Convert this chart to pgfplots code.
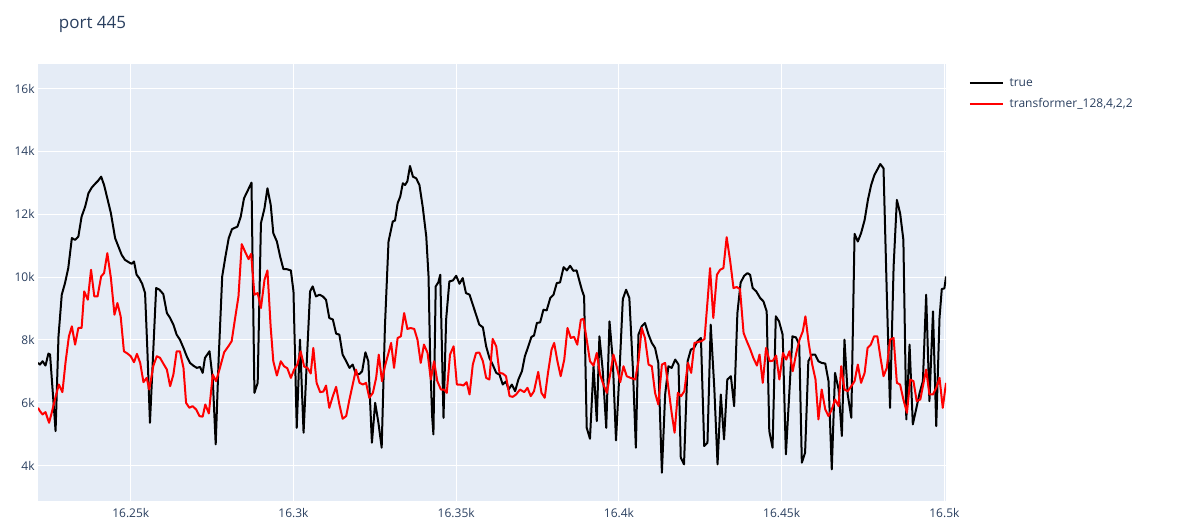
\documentclass[border=0pt]{standalone}
\usepackage{fontspec}
\setmainfont{Open Sans}
\usepackage{pgfplots}
\pgfplotsset{compat=1.18}
\definecolor{plotbg}{HTML}{E5ECF6}
\definecolor{inkblue}{HTML}{2A3F5F}

\begin{document}
\begin{tikzpicture}
\begin{axis}[
  scale only axis, width=681pt, height=327.75pt,
  at={(0pt,0pt)}, anchor=south west,
  xmin=16221.5, xmax=16500.5, ymin=2876, ymax=16780,
  scaled x ticks=false, scaled y ticks=false,
  axis background/.style={fill=plotbg},
  axis line style={draw=none},
  major tick length=0pt,
  grid=major, major grid style={white, line width=0.75pt},
  xtick={16250,16300,16350,16400,16450,16500},
  xticklabels={16.25k,16.3k,16.35k,16.4k,16.45k,16.5k},
  ytick={4000,6000,8000,10000,12000,14000,16000},
  yticklabels={4k,6k,8k,10k,12k,14k,16k},
  tick label style={font=\fontsize{9}{11}\selectfont, text=inkblue},
  xticklabel style={yshift=-2pt},
  yticklabel style={xshift=1pt},
  legend cell align=left,
  legend style={at={(axis description cs:1,1)}, anchor=north west, xshift=14pt, yshift=-6.5pt,
    draw=none, fill=none, font=\fontsize{9}{11}\selectfont, text=inkblue, row sep=3.5pt,
    nodes={inner xsep=4pt}},
  legend image code/.code={\draw[#1] (0pt,0pt) -- (25pt,0pt);},
  line join=round,
]
\addplot[black, line width=1.5pt] coordinates {
(16221.5,7270) (16222.1,7217) (16222.9,7323) (16223.8,7185) (16224.7,7566) (16225.2,7540) (16226.9,5100) (16227.8,8117) (16228.8,9440) (16229.8,9810) (16230.8,10286) (16231.9,11240) (16232.9,11185) (16233.9,11290) (16234.9,11926) (16236.0,12243) (16237.0,12667) (16238.0,12846) (16239.0,12963) (16240.0,13069) (16240.9,13196) (16241.8,12931) (16242.8,12508) (16243.9,12032) (16245.2,11238) (16246.2,10974) (16247.2,10709) (16248.2,10550) (16249.5,10466) (16250.3,10423) (16251.0,10497) (16251.8,10074) (16252.6,9968) (16253.5,9788) (16254.4,9492) (16255.1,7693) (16255.9,5365) (16257.8,9651) (16258.8,9600) (16260.0,9460) (16261.1,8857) (16262.1,8698) (16263.1,8487) (16264.1,8169) (16265.1,8011) (16266.2,7746) (16267.2,7482) (16268.2,7270) (16269.2,7185) (16270.3,7111) (16271.3,7140) (16272.1,6952) (16272.8,7429) (16274.2,7640) (16275.2,6741) (16276.1,4677) (16277.0,7376) (16278.1,10021) (16279.1,10656) (16280.1,11238) (16281.1,11524) (16282.8,11608) (16283.8,11926) (16284.8,12508) (16285.8,12720) (16287.1,13005) (16288.0,6317) (16289.0,6635) (16290.0,11714) (16291.1,12190) (16292.0,12826) (16293.0,12300) (16293.8,11397) (16294.9,11132) (16295.9,10656) (16296.9,10254) (16297.9,10254) (16299.2,10211) (16300.0,9545) (16300.5,7376) (16301.0,5206) (16302.0,8011) (16303.1,5048) (16304.1,7323) (16305.1,9545) (16305.9,9704) (16306.9,9386) (16308.0,9439) (16309.0,9386) (16310.0,9280) (16311.0,8698) (16312.1,8650) (16313.1,8201) (16314.1,8169) (16315.1,7534) (16316.2,7323) (16317.2,7111) (16318.2,7217) (16319.2,6900) (16320.3,6920) (16321.1,7005) (16322.1,7608) (16323.0,7323) (16324.1,4730) (16325.1,6000) (16326.1,5365) (16327.1,4571) (16328.1,8434) (16329.2,11132) (16330.5,11767) (16331.2,11800) (16332.0,12349) (16332.8,12561) (16333.6,12984) (16334.3,12930) (16335.0,13050) (16335.8,13535) (16336.7,13196) (16337.7,13143) (16338.7,12931) (16339.7,12243) (16340.8,11291) (16341.5,10021) (16342.0,7376) (16342.6,5576) (16343.0,4995) (16343.7,9704) (16344.5,9830) (16345.1,10074) (16346.1,5524) (16346.9,8646) (16347.9,9862) (16349.0,9894) (16350.0,10042) (16351.0,9788) (16352.0,9968) (16353.0,9492) (16354.1,9440) (16355.1,9122) (16356.1,8804) (16357.1,8487) (16358.2,8402) (16359.2,7799) (16360.2,7429) (16361.2,7217) (16362.3,6952) (16363.3,6900) (16364.3,6582) (16365.3,6680) (16366.1,6423) (16367.1,6580) (16368.1,6370) (16369.1,6741) (16370.2,7005) (16371.1,7482) (16372.1,7778) (16373.1,8095) (16373.9,8140) (16374.8,8540) (16375.8,8560) (16376.8,8963) (16377.8,8940) (16378.9,9333) (16379.9,9439) (16380.9,9810) (16381.9,9830) (16383.0,10317) (16384.0,10212) (16385.0,10360) (16386.0,10200) (16387.0,10212) (16387.9,9862) (16388.6,9598) (16389.3,9386) (16390.1,5206) (16391.1,4857) (16392.2,7164) (16393.2,5418) (16394.0,8116) (16395.0,7058) (16396.1,5206) (16397.1,8593) (16398.1,7376) (16399.1,4804) (16400.2,7058) (16401.2,9302) (16402.2,9598) (16403.2,9333) (16404.3,7058) (16405.2,4571) (16406.0,8169) (16407.0,8434) (16408.0,8540) (16409.1,8169) (16410.1,7905) (16411.1,7746) (16412.1,7270) (16413.2,3778) (16414.2,6265) (16415.2,7164) (16416.2,7111) (16417.3,7376) (16418.3,7217) (16419.0,4254) (16420.0,4042) (16421.1,7323) (16422.1,7693) (16423.1,7746) (16424.1,7958) (16425.2,8063) (16426.2,4624) (16427.2,4730) (16428.2,8487) (16429.3,6476) (16430.3,4042) (16431.3,6265) (16432.3,4836) (16433.3,6741) (16434.4,6847) (16435.4,5894) (16436.4,8857) (16437.4,9830) (16438.5,10042) (16439.5,10127) (16440.3,10074) (16441.1,9651) (16442.2,9545) (16443.4,9333) (16444.4,9228) (16445.4,8910) (16446.2,5100) (16447.2,4571) (16448.2,8751) (16449.2,8593) (16450.3,8169) (16451.3,4360) (16452.3,6212) (16453.3,8116) (16454.4,8080) (16455.4,7852) (16456.2,4095) (16457.2,4413) (16458.2,7323) (16459.3,7534) (16460.3,7534) (16461.3,7323) (16462.3,7270) (16463.4,7250) (16464.4,6688) (16465.4,3884) (16466.4,6953) (16467.5,6423) (16468.5,4942) (16469.3,8011) (16470.3,6265) (16471.4,5524) (16472.4,11376) (16473.4,11132) (16474.4,11397) (16475.5,11820) (16476.5,12455) (16477.5,12931) (16478.5,13249) (16479.6,13460) (16480.3,13598) (16481.3,13460) (16482.3,9492) (16483.3,5841) (16484.4,10339) (16485.4,12455) (16486.4,12032) (16487.4,11185) (16488.3,5471) (16489.3,7852) (16490.3,5312) (16491.3,5788) (16492.4,6317) (16493.4,6688) (16494.4,9439) (16495.4,6053) (16496.5,8910) (16497.5,5259) (16498.5,8698) (16499.2,9619) (16500.0,9640) (16500.5,10021)
};
\addlegendentry{true}
\addplot[red, line width=1.5pt] coordinates {
(16221.5,5841) (16222.1,5735) (16222.9,5630) (16223.8,5704) (16224.9,5365) (16225.7,5680) (16226.7,6106) (16227.9,6582) (16229.0,6339) (16230.0,7323) (16231.0,8116) (16231.9,8434) (16232.9,7852) (16233.9,8381) (16234.9,8381) (16235.7,9545) (16236.8,9280) (16237.8,10233) (16238.8,9386) (16239.8,9386) (16240.9,10021) (16241.8,10127) (16242.8,10762) (16243.9,9968) (16245.0,8804) (16245.9,9175) (16246.9,8751) (16247.9,7640) (16249.0,7566) (16250.0,7482) (16251.0,7291) (16251.9,7556) (16252.9,7270) (16253.9,6656) (16254.9,6794) (16255.7,6423) (16256.9,7165) (16258.0,7482) (16259.0,7430) (16260.0,7249) (16261.1,7058) (16262.1,6529) (16263.1,6900) (16264.1,7640) (16265.1,7640) (16266.2,7111) (16267.0,6000) (16268.0,5841) (16269.0,5894) (16270.1,5788) (16271.1,5577) (16272.1,5560) (16272.9,5947) (16274.0,5661) (16275.2,6900) (16276.2,6688) (16277.4,7111) (16278.7,7608) (16280.0,7799) (16281.0,7958) (16282.0,8646) (16283.1,9386) (16284.1,11048) (16285.1,10815) (16286.2,10571) (16287.0,10741) (16288.0,9439) (16289.0,9492) (16290.0,9016) (16291.1,9915) (16292.0,10211) (16293.0,8400) (16293.8,7323) (16294.9,6868) (16296.1,7323) (16297.1,7164) (16298.1,7100) (16299.2,6794) (16300.2,7058) (16301.2,7217) (16302.2,7640) (16303.3,7150) (16304.3,7111) (16305.3,6931) (16306.1,7746) (16307.1,6635) (16308.2,6339) (16309.2,6360) (16310.0,6550) (16311.0,5841) (16312.1,6212) (16313.1,6508) (16314.1,5947) (16315.1,5492) (16316.2,5580) (16317.2,6106) (16318.2,6582) (16319.2,7058) (16320.3,6635) (16321.3,6582) (16322.3,6635) (16323.3,6159) (16324.4,6317) (16325.4,6794) (16326.2,7534) (16327.2,6688) (16328.1,7164) (16329.2,7587) (16330.0,7905) (16330.9,7111) (16332.0,8063) (16333.0,8116) (16334.0,8857) (16335.0,8350) (16336.0,8380) (16337.1,8350) (16338.1,8011) (16339.1,7270) (16340.1,7852) (16341.2,7587) (16342.2,6741) (16343.2,7323) (16344.2,6688) (16345.3,6423) (16346.3,6423) (16347.1,6317) (16348.1,7534) (16349.2,7799) (16350.2,6582) (16351.2,6582) (16352.2,6550) (16353.2,6656) (16354.1,6265) (16355.1,7217) (16356.1,7587) (16357.1,7600) (16358.2,7323) (16359.2,6794) (16360.2,6741) (16361.2,8032) (16362.3,7799) (16363.3,6952) (16364.3,6931) (16365.3,6847) (16366.4,6212) (16367.4,6190) (16368.4,6265) (16369.6,6423) (16370.9,6340) (16371.9,6476) (16372.9,6212) (16373.9,6370) (16375.2,6984) (16376.2,6317) (16377.2,6159) (16378.2,6952) (16379.3,7693) (16380.1,7905) (16381.1,7323) (16382.1,6847) (16383.2,7376) (16384.2,8381) (16385.2,8063) (16386.2,8100) (16387.2,7852) (16388.3,8646) (16389.1,8670) (16390.1,8011) (16391.1,7323) (16392.2,7185) (16393.2,7587) (16394.2,6900) (16395.2,6582) (16396.3,6317) (16397.3,6900) (16398.3,7534) (16399.3,7164) (16400.4,6656) (16401.4,7164) (16402.4,6847) (16403.4,6800) (16405.0,6741) (16406.0,7323) (16407.0,8381) (16408.0,8063) (16409.1,7217) (16410.1,7164) (16411.1,6317) (16412.1,5947) (16413.2,7217) (16414.2,7270) (16415.2,6476) (16416.2,5682) (16417.1,5048) (16418.1,6317) (16419.1,6212) (16420.1,6370) (16421.2,7270) (16422.2,6952) (16423.2,7905) (16424.2,7930) (16425.3,7958) (16426.3,8032) (16427.3,9333) (16428.0,10286) (16429.0,8698) (16430.1,10074) (16431.1,10233) (16432.1,10286) (16433.1,11270) (16434.2,10497) (16435.2,9651) (16436.2,9683) (16437.2,9619) (16438.3,8222) (16439.3,7958) (16440.3,7714) (16441.3,7429) (16442.4,7185) (16443.2,7534) (16444.2,6635) (16445.2,7746) (16446.3,7323) (16447.3,7340) (16448.3,7503) (16449.3,6741) (16450.4,7587) (16451.4,7376) (16452.4,7640) (16453.4,7005) (16454.5,7587) (16455.5,8011) (16456.5,8275) (16457.3,8751) (16458.3,7905) (16459.4,7217) (16460.4,6741) (16461.3,5471) (16462.3,6423) (16463.4,5788) (16464.4,5577) (16465.4,5788) (16466.4,6106) (16467.5,5894) (16468.3,7164) (16469.3,6423) (16470.3,6370) (16471.4,6529) (16472.4,6688) (16473.4,7217) (16474.4,6635) (16475.5,6953) (16476.4,7746) (16477.4,7852) (16478.4,8116) (16479.4,8116) (16480.3,7482) (16481.3,6847) (16482.3,7111) (16483.3,8011) (16484.4,8063) (16485.4,6635) (16486.4,6580) (16487.4,6106) (16488.5,5682) (16489.5,6741) (16490.5,6688) (16491.5,6053) (16492.6,6106) (16493.6,6635) (16494.4,7058) (16495.4,6265) (16496.5,6265) (16497.5,6476) (16498.5,6794) (16499.5,5841) (16500.5,6635)
};
\addlegendentry{transformer\_128,4,2,2}
\end{axis}
% chart title
\node[anchor=base west, inner sep=0pt, font=\fontsize{12.75}{15}\selectfont, text=inkblue] at (15.5pt,354pt) {port 445};
\pgfresetboundingbox
\path[use as bounding box] (-28.5pt,-15pt) rectangle (856.5pt,375.75pt);
\end{tikzpicture}
\end{document}
